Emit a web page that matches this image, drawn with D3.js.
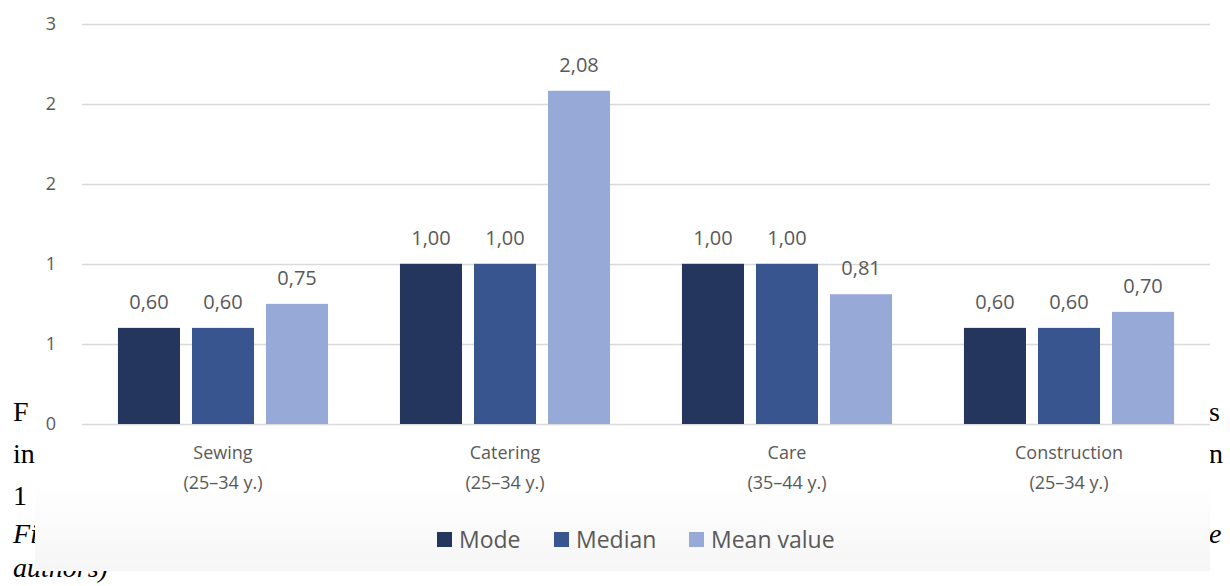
<!DOCTYPE html>
<html>
<head>
<meta charset="utf-8">
<script src="https://cdn.jsdelivr.net/npm/d3@7"></script>
<style>
  body { margin: 0; background: #fff; }
  svg { display: block; }
</style>
</head>
<body>
<div id="chart"></div>
<script>
// Chart data
const categories = ['Sewing|(25–34 y.)', 'Catering|(25–34 y.)', 'Care|(35–44 y.)', 'Construction|(25–34 y.)'];
const seriesNames = ['Mode', 'Median', 'Mean value'];
const modeValues = [0.60, 1.00, 1.00, 0.60];
const medianValues = [0.60, 1.00, 1.00, 0.60];
const meanValues = [0.75, 2.08, 0.81, 0.70];
const yTicks = [0, 0.5, 1, 1.5, 2, 2.5];
const yTickLabels = ['0', '1', '1', '2', '2', '3'];

// Page text behind the chart image (clipped by the chart box)
const leftPageText = ['F', 'in', '1', 'Fi', 'authors)'];
const rightPageText = ['s', 'n', 'e'];

const width = 1230, height = 586;
const box = { left: 35, right: 1210, top: 0, bottom: 571 };
const plot = { left: 82, right: 1210, top: 23.5, bottom: 424 };
const colors = ['#25365e', '#38558f', '#96a9d7'];
const FONT = '"Open Sans", "Noto Sans", sans-serif';
const GREY = '#595959';

const svg = d3.select('#chart').append('svg')
    .attr('width', width)
    .attr('height', height);

// Serif text of the surrounding document
const serif = svg.append('g')
    .style('font-family', '"Liberation Serif", "Times New Roman", serif')
    .style('font-size', '28px')
    .style('fill', '#000');
const leftY = [421, 463, 505, 543, 577];
serif.selectAll('.lt').data(leftPageText).join('text')
    .attr('x', 13)
    .attr('y', (d, i) => leftY[i])
    .style('font-style', (d, i) => i >= 3 ? 'italic' : 'normal')
    .text(d => d);
const rightY = [421, 463, 543];
serif.selectAll('.rt').data(rightPageText).join('text')
    .attr('x', 1209)
    .attr('y', (d, i) => rightY[i])
    .style('font-style', (d, i) => i === 2 ? 'italic' : 'normal')
    .text(d => d);

// Chart box with faint grey gradient at the bottom
const defs = svg.append('defs');
const grad = defs.append('linearGradient')
    .attr('id', 'boxGrad')
    .attr('x1', 0).attr('y1', 0).attr('x2', 0).attr('y2', 1);
grad.append('stop').attr('offset', '0.84').attr('stop-color', '#ffffff');
grad.append('stop').attr('offset', '1').attr('stop-color', '#f6f6f6');

svg.append('rect')
    .attr('x', box.left)
    .attr('y', box.top)
    .attr('width', box.right - box.left)
    .attr('height', box.bottom - box.top)
    .attr('fill', 'url(#boxGrad)');

// Scales
const x0 = d3.scaleBand()
    .domain(categories)
    .range([plot.left, plot.right])
    .paddingInner(0.255)
    .paddingOuter(0.1275);

const x1 = d3.scaleBand()
    .domain(seriesNames)
    .range([0, x0.bandwidth()])
    .paddingInner(0.162);

const y = d3.scaleLinear()
    .domain([0, 2.5])
    .range([plot.bottom, plot.top]);

// Gridlines
svg.append('g').selectAll('line').data(yTicks).join('line')
    .attr('x1', plot.left)
    .attr('x2', plot.right)
    .attr('y1', d => Math.round(y(d)) + 0.5)
    .attr('y2', d => Math.round(y(d)) + 0.5)
    .attr('stroke', '#d9d9d9')
    .attr('stroke-width', 1.5);

// Y axis labels
const yAxis = svg.append('g')
    .attr('transform', `translate(${plot.left},0)`)
    .call(d3.axisLeft(y)
        .tickValues(yTicks)
        .tickSize(0)
        .tickPadding(26)
        .tickFormat((d, i) => yTickLabels[i]));
yAxis.select('.domain').remove();
yAxis.selectAll('text')
    .style('font-family', FONT)
    .style('font-size', '18px')
    .style('fill', GREY);

// Bars
const series = [modeValues, medianValues, meanValues];
const groups = svg.append('g').selectAll('g').data(categories).join('g')
    .attr('transform', d => `translate(${x0(d)},0)`);

groups.each(function (cat, ci) {
    const g = d3.select(this);
    const vals = seriesNames.map((s, si) => ({ s, si, v: series[si][ci] }));
    g.selectAll('rect').data(vals).join('rect')
        .attr('x', d => x1(d.s))
        .attr('y', d => y(d.v))
        .attr('width', x1.bandwidth())
        .attr('height', d => y(0) - y(d.v))
        .attr('fill', d => colors[d.si]);
    g.selectAll('text').data(vals).join('text')
        .attr('x', d => x1(d.s) + x1.bandwidth() / 2)
        .attr('y', d => y(d.v) - 19)
        .attr('text-anchor', 'middle')
        .style('font-family', FONT)
        .style('font-size', '20px')
        .style('fill', GREY)
        .text(d => d3.format('.2f')(d.v).replace('.', ','));
});

// Category labels (two lines)
const catLabels = svg.append('g').selectAll('text').data(categories).join('text')
    .attr('text-anchor', 'middle')
    .style('font-family', FONT)
    .style('font-size', '18px')
    .style('fill', GREY);
catLabels.selectAll('tspan').data(d => d.split('|').map(t => ({ t, c: d }))).join('tspan')
    .attr('x', d => x0(d.c) + x0.bandwidth() / 2)
    .attr('y', (d, i) => 459 + i * 30)
    .text(d => d.t);

// Legend
const legendX = [437, 554, 689];
const legend = svg.append('g').selectAll('g').data(seriesNames).join('g')
    .attr('transform', (d, i) => `translate(${legendX[i]},532)`);
legend.append('rect')
    .attr('width', 15)
    .attr('height', 15)
    .attr('fill', (d, i) => colors[i]);
legend.append('text')
    .attr('x', 22)
    .attr('y', 16)
    .style('font-family', FONT)
    .style('font-size', '23px')
    .style('fill', GREY)
    .text(d => d);
</script>
</body>
</html>
